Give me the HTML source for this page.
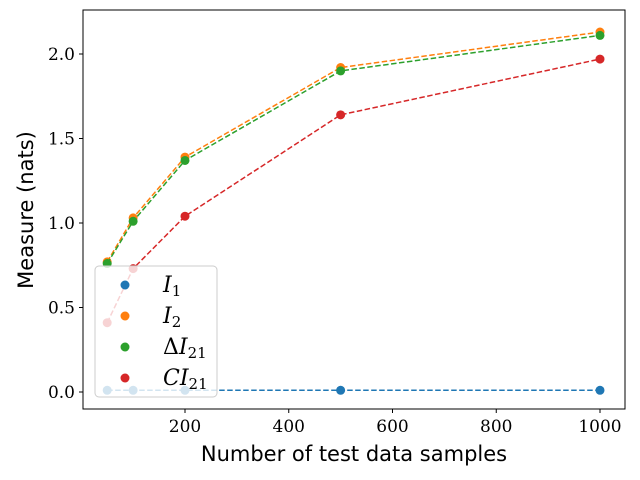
<!DOCTYPE html>
<html><head><meta charset="utf-8"><style>
body{margin:0;background:#fff;}
svg{display:block;font-family:"DejaVu Serif","Liberation Serif",serif;}
</style></head><body>
<svg id="chart" width="640" height="480" xmlns="http://www.w3.org/2000/svg">
<rect x="83" y="10" width="542" height="399" fill="none" stroke="#000" stroke-width="1"/>
<g id="ticks"></g>
<g id="series"></g>
<text x="354" y="461" font-size="21" text-anchor="middle" font-family="DejaVu Sans, Liberation Sans, sans-serif">Number of test data samples</text>
<text transform="translate(33,210) rotate(-90)" font-size="21" text-anchor="middle" font-family="DejaVu Sans, Liberation Sans, sans-serif">Measure (nats)</text>
<g id="legend">
<rect x="95" y="266" width="122" height="131" rx="4" fill="#fff" fill-opacity="0.8" stroke="#ccc" stroke-width="1"/>
</g>
</svg>
<script>
const samples=[50,100,200,500,1000];
const I1=[0.01,0.01,0.01,0.01,0.01];
const I2=[0.77,1.03,1.39,1.92,2.13];
const dI21=[0.76,1.01,1.37,1.90,2.11];
const CI21=[0.41,0.73,1.04,1.64,1.97];
const xTicks=[200,400,600,800,1000];
const yTicks=[0.0,0.5,1.0,1.5,2.0];
const NS="http://www.w3.org/2000/svg";
const xs=v=>81.25+v*0.51875;
const ys=v=>392-v*169;
function mk(t,a,p){const e=document.createElementNS(NS,t);for(const k in a)e.setAttribute(k,a[k]);p.appendChild(e);return e;}
const tg=document.getElementById('ticks');
xTicks.forEach(t=>{const l=mk('line',{x1:xs(t),x2:xs(t),y1:409,y2:413,stroke:'#000'},tg);


const tx=mk('text',{x:xs(t),y:432,'font-size':17,'text-anchor':'middle'},tg);tx.textContent=t;

});
yTicks.forEach(t=>{const l=mk('line',{x1:79,x2:83,y1:ys(t),y2:ys(t),stroke:'#000'},tg);


const tx=mk('text',{x:75,y:ys(t)+6,'font-size':17,'text-anchor':'end'},tg);tx.textContent=t.toFixed(1);

});
const sg=document.getElementById('series');
const series=[[I1,'#1f77b4','i1'],[I2,'#ff7f0e','i2'],[dI21,'#2ca02c','delta-i21'],[CI21,'#d62728','ci21']];
series.forEach(([d,c,n])=>{const g=mk('g',{},sg);


mk('polyline',{points:d.map((v,i)=>xs(samples[i])+','+ys(v)).join(' '),fill:'none',stroke:c,'stroke-width':1.5,'stroke-dasharray':'5.5,2.5'},g);
d.forEach((v,i)=>{const p=mk('circle',{cx:xs(samples[i]),cy:ys(v),r:4.5,fill:c},g);

});});
const lg=document.getElementById('legend');
const labs=[['I','1',''],['I','2',''],['I','21','Δ'],['I','21','C']];
series.forEach(([d,c,n],i)=>{const y=285+i*31;
const e=mk('g',{},lg);


mk('circle',{cx:125,cy:y,r:4.5,fill:c},e);
const t=mk('text',{x:163,y:y+7,'font-size':22},e);
if(labs[i][2]){const a=mk('tspan',{'font-style':labs[i][2]=='C'?'italic':'normal'},t);a.textContent=labs[i][2];}
const b=mk('tspan',{'font-style':'italic'},t);b.textContent=labs[i][0];
const s=mk('tspan',{'font-size':15,dy:4},t);s.textContent=labs[i][1];});
</script>
</body></html>
